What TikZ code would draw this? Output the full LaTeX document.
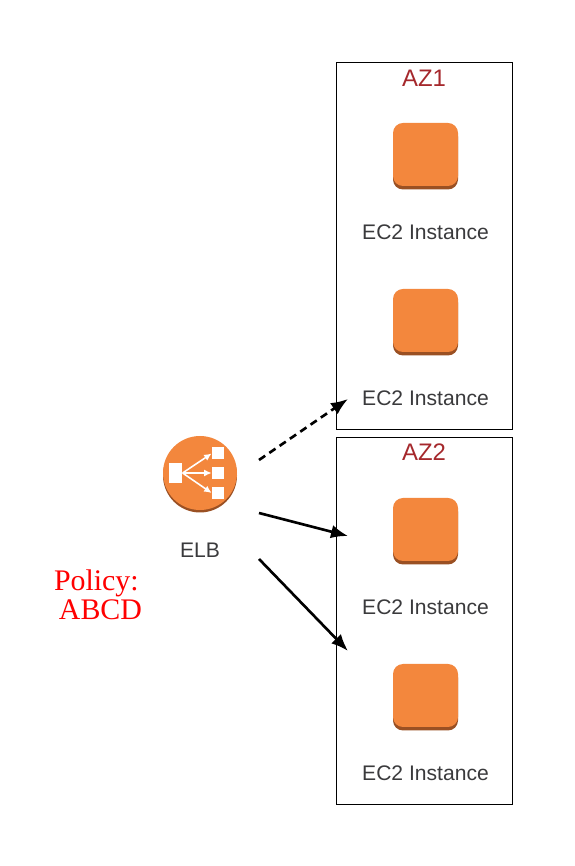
\documentclass[tikz,border=0pt]{standalone}
\usepackage{fontspec}
\setmainfont{Liberation Sans}
\newfontfamily\policyfont{Liberation Serif}
\usetikzlibrary{positioning,arrows.meta}
\definecolor{awsorange}{HTML}{F3873D}
\definecolor{awsdark}{HTML}{9A5023}
\definecolor{azred}{HTML}{A5282C}
\definecolor{lbl}{HTML}{3A3A3C}
\tikzset{
  azbox/.style={draw=black,line width=0.4pt,minimum width=7.04cm/2,minimum height=7.34cm,inner sep=0},
  azlabel/.style={text=azred,font=\fontsize{13.6}{15}\selectfont,inner sep=0},
  ec2/.style={fill=awsorange,rounded corners=0.2cm,minimum width=1.3cm,minimum height=1.26cm,inner sep=0,
    preaction={fill=awsdark,transform canvas={yshift=-0.07cm}}},
  iconlabel/.style={text=lbl,font=\fontsize{12}{14}\selectfont,inner sep=0},
  elbsquare/.style={fill=white,inner sep=0,minimum width=0.24cm,minimum height=0.24cm},
  link/.style={black,line width=1.5pt,-{Latex[length=0.34cm,width=0.27cm]}},
  elbarrow/.style={white,line width=0.9pt,-{Latex[length=0.15cm,width=0.14cm]}}
}
\begin{document}
\begin{tikzpicture}
  \useasboundingbox (0,0) rectangle (11.5,17.32);
  % availability zones
  \node[azbox] (azone) at (8.49,12.41) {};
  \node[azbox] (aztwo) at (8.49,4.91) {};
  \node[azlabel] (azonelabel) at (8.48,15.76) {AZ1};
  \node[azlabel] (aztwolabel) at (8.48,8.28) {AZ2};
  % instances
  \foreach \name/\y in {ia/14.23,ib/10.91,ic/6.73,id/3.41} {
    \node[ec2] (\name) at (8.51,\y) {};
    \node[iconlabel,below=0.77cm of \name] (\name label) {EC2 Instance};
  }
  % load balancer
  \node[circle,fill=awsorange,minimum size=1.48cm,inner sep=0,
    preaction={fill=awsdark,transform canvas={yshift=-0.05cm}}] (elb) at (4,7.86) {};
  \node[iconlabel,below=0.64cm of elb] (elblabel) {ELB};
  \node[elbsquare,minimum width=0.27cm,minimum height=0.4cm] (src) at (3.51,7.86) {};
  \node[elbsquare] (dsta) at (4.36,8.25) {};
  \node[elbsquare] (dstb) at (4.36,7.86) {};
  \node[elbsquare] (dstc) at (4.36,7.46) {};
  \draw[elbarrow] (src.east) -- (dsta.west);
  \draw[elbarrow] (src.east) -- (dstb.west);
  \draw[elbarrow] (src.east) -- (dstc.west);
  \node[text=red,align=left,font=\policyfont\fontsize{17}{16.5}\selectfont,inner sep=0] (policy) at (1.96,5.43) {Policy:\\\hspace*{2.8pt}ABCD};
  % connectors
  \coordinate (startup) at (5.18,8.12);
  \coordinate (startmid) at (5.18,7.06);
  \coordinate (startlow) at (5.18,6.14);
  \coordinate (endup) at (6.96,9.34);
  \coordinate (endmid) at (6.96,6.6);
  \coordinate (endlow) at (6.96,4.3);
  \draw[link,dash pattern=on 0.15cm off 0.1cm] (startup) -- (endup);
  \draw[link] (startmid) -- (endmid);
  \draw[link] (startlow) -- (endlow);
\end{tikzpicture}
\end{document}
